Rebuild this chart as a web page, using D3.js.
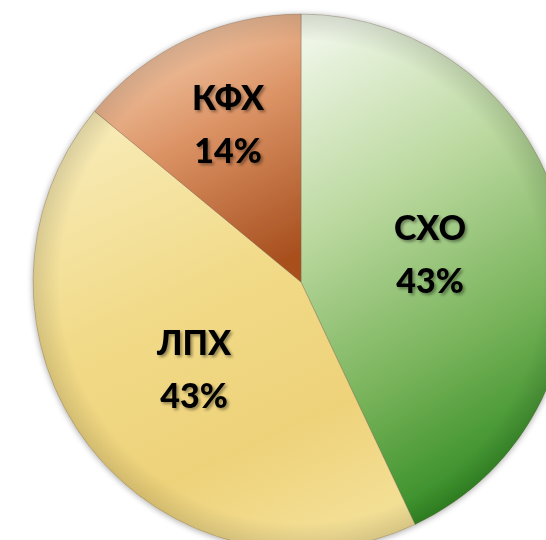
<!DOCTYPE html>
<html><head><meta charset="utf-8">
<script src="https://cdn.jsdelivr.net/npm/d3@7/dist/d3.min.js"></script>
<style>html,body{margin:0;padding:0;background:#fff;overflow:hidden}</style>
</head><body>
<svg id="chart" width="546" height="540"></svg>
<script>
const categories = ["СХО", "ЛПХ", "КФХ"];
const values = [43, 43, 14];
const labels = ["43%", "43%", "14%"];
const gradStops = [
  [["0%", "#eef5e6"], ["35%", "#bcd9a0"], ["70%", "#78b35a"], ["100%", "#2f8a22"]],
  [["0%", "#f7eab4"], ["40%", "#f1da88"], ["75%", "#eed27a"], ["100%", "#f3df95"]],
  [["0%", "#f6d2b4"], ["45%", "#dc9466"], ["100%", "#a8501f"]]
];
const gradDir = [
  {x1: "0.2", y1: "0", x2: "0.5", y2: "1"},
  {x1: "0.3", y1: "0", x2: "0.7", y2: "1"},
  {x1: "0.3", y1: "0", x2: "0.7", y2: "1"}
];

const svg = d3.select("#chart");
const cx = 301, cy = 282, r = 268;
const defs = svg.append("defs");

categories.forEach((c, i) => {
  const g = defs.append("linearGradient").attr("id", "g" + i)
    .attr("x1", gradDir[i].x1).attr("y1", gradDir[i].y1)
    .attr("x2", gradDir[i].x2).attr("y2", gradDir[i].y2);
  gradStops[i].forEach(s => g.append("stop").attr("offset", s[0]).attr("stop-color", s[1]));
});
const rg = defs.append("radialGradient").attr("id", "edge")
  .attr("cx", cx).attr("cy", cy).attr("r", r).attr("gradientUnits", "userSpaceOnUse");
rg.append("stop").attr("offset", "0.9").attr("stop-color", "#000").attr("stop-opacity", 0);
rg.append("stop").attr("offset", "1").attr("stop-color", "#000").attr("stop-opacity", 0.12);

const f = defs.append("filter").attr("id", "shadow").attr("x", "-20%").attr("y", "-20%").attr("width", "140%").attr("height", "140%");
f.append("feGaussianBlur").attr("in", "SourceAlpha").attr("stdDeviation", 3);
f.append("feOffset").attr("dx", 0).attr("dy", 1).attr("result", "b");
f.append("feComponentTransfer").append("feFuncA").attr("type", "linear").attr("slope", 0.35);
const m = f.append("feMerge");
m.append("feMergeNode");
m.append("feMergeNode").attr("in", "SourceGraphic");

const tf = defs.append("filter").attr("id", "tshadow").attr("x", "-20%").attr("y", "-20%").attr("width", "140%").attr("height", "140%");
tf.append("feGaussianBlur").attr("in", "SourceAlpha").attr("stdDeviation", 1.5);
tf.append("feOffset").attr("dx", 2).attr("dy", 2);
tf.append("feComponentTransfer").append("feFuncA").attr("type", "linear").attr("slope", 0.4);
const tm = tf.append("feMerge");
tm.append("feMergeNode");
tm.append("feMergeNode").attr("in", "SourceGraphic");

const pie = d3.pie().sort(null).value(d => d)(values);
const arc = d3.arc().innerRadius(0).outerRadius(r);
const g = svg.append("g").attr("transform", `translate(${cx},${cy})`);

g.append("g").attr("filter", "url(#shadow)").selectAll("path").data(pie).join("path")
  .attr("d", arc).attr("fill", (d, i) => `url(#g${i})`)
  .attr("stroke", "rgba(120,100,80,0.35)").attr("stroke-width", 1);
g.append("circle").attr("r", r).attr("cx", 0).attr("cy", 0)
  .attr("fill", "url(#edge)").attr("transform", `translate(${-cx},${-cy})`)
  .attr("cx", cx).attr("cy", cy);

const labelPos = [[129, -42], [-107, 73], [-73, -172]];
const lg = g.append("g").attr("filter", "url(#tshadow)");
pie.forEach((d, i) => {
  const t = lg.append("text").attr("text-anchor", "middle")
    .attr("font-family", "Lato, 'Open Sans', sans-serif").attr("font-weight", 900)
    .attr("font-size", 34).attr("fill", "#000")
    .attr("transform", `translate(${labelPos[i][0]},${labelPos[i][1]})`);
  t.append("tspan").attr("x", 0).attr("y", 0).text(categories[i]);
  t.append("tspan").attr("x", 0).attr("y", 53).text(labels[i]);
});
</script>
</body></html>
